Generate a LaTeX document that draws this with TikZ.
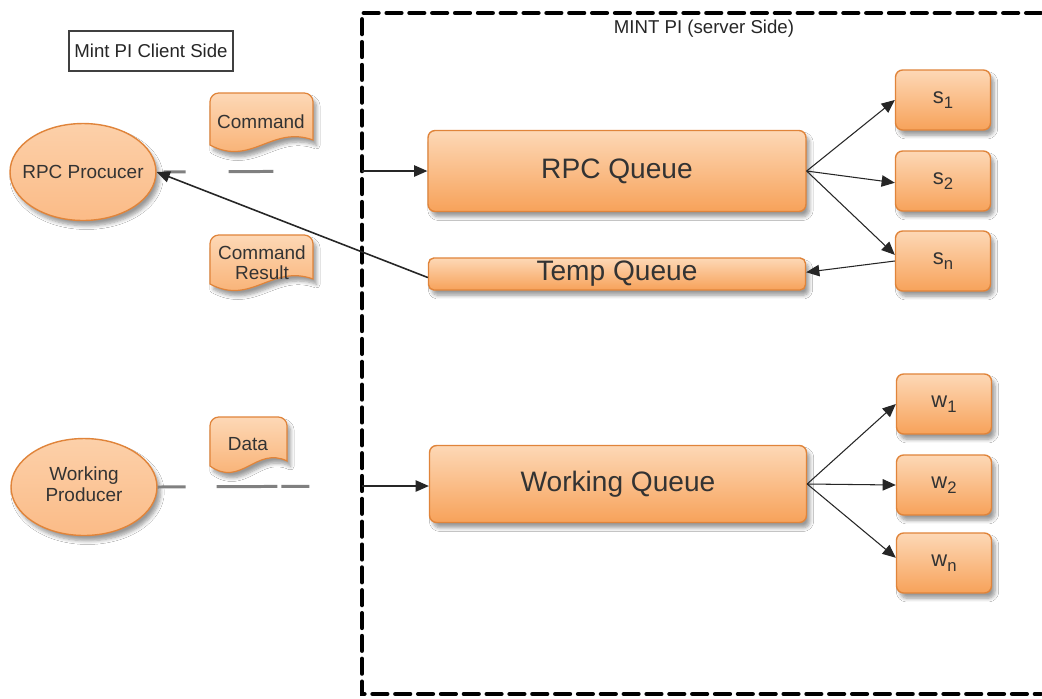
\documentclass[tikz,border=0pt]{standalone}
\usepackage{fontspec}
\setmainfont{Liberation Sans}
\usetikzlibrary{arrows.meta,shadows.blur,calc,backgrounds,shapes.geometric}
\definecolor{obrd}{HTML}{E0843A}
\definecolor{otop}{HTML}{FDD8B6}
\definecolor{obot}{HTML}{F7A25A}
\definecolor{ofill}{HTML}{FBBE8C}
\definecolor{gline}{HTML}{808080}
\tikzset{
  x=0.02cm, y=-0.02cm,
  shad/.style={blur shadow={shadow xshift=2pt, shadow yshift=-3pt, shadow blur steps=6, shadow opacity=40}},
  qbox/.style={draw=obrd, line width=0.8pt, rounded corners=4pt, top color=otop, bottom color=obot, shad, inner sep=0pt, text=black!80, font=\fontsize{16}{18}\selectfont},
  sbox/.style={qbox, minimum width=1.9cm, minimum height=1.2cm, font=\fontsize{12.5}{14}\selectfont},
  prod/.style={ellipse, draw=obrd, line width=0.8pt, top color=otop!70!ofill, bottom color=ofill!90!obot, shad, minimum width=2.92cm, minimum height=1.94cm, inner sep=0pt, text=black!80, font=\fontsize{10.8}{12}\selectfont},
  docst/.style={draw=obrd, line width=0.7pt, top color=otop, bottom color=obot!85!otop, shad},
  doctext/.style={inner sep=0pt, align=center, text=black!80, font=\fontsize{10.8}{11.5}\selectfont},
  label/.style={inner sep=0pt, text=black!85, font=\fontsize{10.6}{12}\selectfont},
  arr/.style={-{Triangle[length=7.5pt,width=6.5pt]}, line width=0.6pt, black!85},
  grayseg/.style={gline, line width=1.7pt},
  dashbox/.style={line width=2.4pt, dash pattern=on 8.5pt off 4.5pt, line cap=round},
}
\newcommand\docshape[4]{%
  \path[docst] (#1,#4) [rounded corners=5pt] -- (#1,#2) -- (#3,#2) [sharp corners] -- (#3,{#4-5})
    .. controls ({#3-0.4*(#3-#1)},{#4-20}) and ({#1+0.4*(#3-#1)},{#4+22}) .. (#1,#4) -- cycle;}
\begin{document}
\begin{tikzpicture}
\useasboundingbox (0,0) rectangle (1042,698);
\fill[white] (0,0) rectangle (1042,698);

% server side dashed frame
\draw[dashbox] (1041,13) -- (362,13) -- (362,694) -- (1041,694);
\node[label] (srv) at (704,29) {MINT PI (server Side)};

% client side label
\node[draw=black!75, line width=0.8pt, minimum width=3.28cm, minimum height=0.8cm, inner sep=0pt, text=black!85, font=\fontsize{10.6}{12}\selectfont] (cli) at (151,51) {Mint PI Client Side};

% producers
\node[prod] (rpcprod) at (83,172) {\makebox[0pt]{RPC Procucer}};
\node[prod] (wprod) at (84,487) {\makebox[0pt]{\begin{tabular}{@{}c@{}}Working\\Producer\end{tabular}}};

% documents
\docshape{210}{93}{313}{145}
\node[doctext] (cmd) at (261,122) {Command};
\docshape{210}{235}{313}{284}
\node[doctext] (cres) at (262,263) {Command\\Result};
\docshape{210}{417}{287}{466}
\node[doctext] (data) at (248,444) {Data};

% queues
\node[qbox, minimum width=7.56cm, minimum height=1.62cm] (rq) at (617,171) {\raisebox{-2pt}{RPC Queue}};
\node[qbox, minimum width=7.54cm, minimum height=0.64cm, rounded corners=3pt] (tq) at (617,274) {\raisebox{-1.5pt}{Temp Queue}};
\node[qbox, minimum width=7.54cm, minimum height=1.54cm] (wq) at (618,484) {\raisebox{-2pt}{Working Queue}};

% consumers
\node[sbox] (s1) at (943,100) {s\raisebox{-0.45ex}{\fontsize{9.5}{10}\selectfont 1}};
\node[sbox] (s2) at (943,181) {s\raisebox{-0.45ex}{\fontsize{9.5}{10}\selectfont 2}};
\node[sbox] (sn) at (943,261) {s\raisebox{-0.45ex}{\fontsize{9.5}{10}\selectfont n}};
\node[sbox] (w1) at (944,404) {w\raisebox{-0.45ex}{\fontsize{9.5}{10}\selectfont 1}};
\node[sbox] (w2) at (944,485) {w\raisebox{-0.45ex}{\fontsize{9.5}{10}\selectfont 2}};
\node[sbox] (wn) at (944,563) {w\raisebox{-0.45ex}{\fontsize{9.5}{10}\selectfont n}};

% entry points on the frame
\coordinate (rin) at (362,171);
\coordinate (win) at (362,486);

% client to server lines
\draw[grayseg, dash pattern=on 12.5pt off 24.4pt on 25.5pt off 200pt, shorten <=4pt] (rpcprod.east) -- (rin);
\draw[grayseg, dash pattern=on 15.9pt off 17.6pt on 34.6pt off 2.3pt on 15.9pt off 200pt] (wprod.east) -- (win);
\draw[arr] (rin) -- (rq.west);
\draw[arr] (win) -- (wq.west |- win);

% reply
\draw[arr, line width=0.9pt] ([yshift=-2pt]tq.west) -- (rpcprod.east);

% rpc fan-out
\draw[arr] (rq.east) -- (s1.west);
\draw[arr] (rq.east) -- ([yshift=-1pt]s2.west);
\draw[arr] (rq.east) -- ([yshift=3.5pt]sn.west);
\draw[arr] (sn.west) -- ([yshift=1pt]tq.east);

% working fan-out
\draw[arr] (wq.east) -- (w1.west);
\draw[arr] (wq.east) -- (w2.west);
\draw[arr] (wq.east) -- ([yshift=3pt]wn.west);
\end{tikzpicture}
\end{document}
